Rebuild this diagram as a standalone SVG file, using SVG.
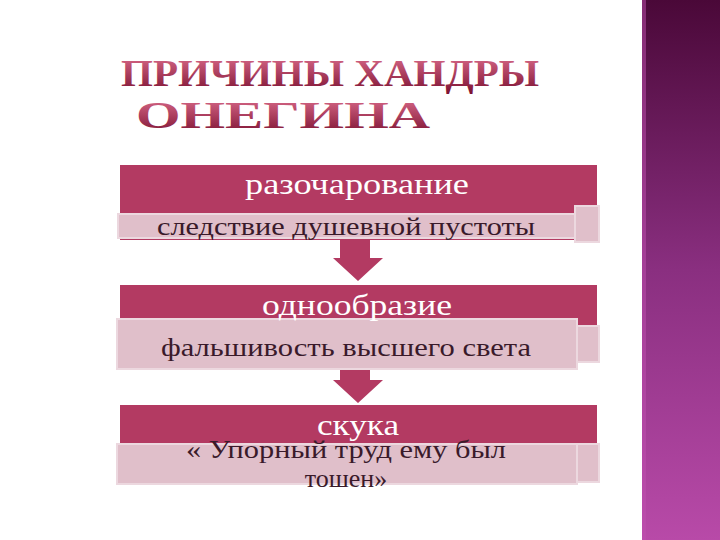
<svg xmlns="http://www.w3.org/2000/svg" width="720" height="540" viewBox="0 0 720 540">
<defs>
<linearGradient id="side" x1="0" y1="0" x2="0" y2="1"><stop offset="0" stop-color="#4a0838"/><stop offset="0.5" stop-color="#8a2f80"/><stop offset="1" stop-color="#b84aa8"/></linearGradient>
<linearGradient id="tg" x1="0" y1="0" x2="0" y2="1"><stop offset="0" stop-color="#e07090"/><stop offset="1" stop-color="#7a1030"/></linearGradient>
<style>
.dk{fill:#b33a62}
.lt{fill:#e0bfca;stroke:#ecd8df;stroke-width:2}
.w{font-family:"Liberation Serif","DejaVu Serif",serif;font-size:30px;fill:#fff;text-anchor:middle}
.b{font-family:"Liberation Serif","DejaVu Serif",serif;font-size:26px;fill:#3a1a2a;text-anchor:middle}
.t{font-family:"Liberation Serif","DejaVu Serif",serif;font-size:38px;font-weight:bold;fill:url(#tg);text-anchor:middle}
</style>
</defs>
<rect width="720" height="540" fill="#fff"/>
<rect x="642" y="0" width="78" height="540" fill="url(#side)"/>
<rect x="642" y="0" width="4" height="540" fill="#c050b0" opacity="0.5"/>
<g id="title"><text class="t" x="330" y="86" textLength="418" lengthAdjust="spacingAndGlyphs">ПРИЧИНЫ ХАНДРЫ</text><text class="t" x="283" y="128" textLength="294" lengthAdjust="spacingAndGlyphs">ОНЕГИНА</text></g>
<g id="connectors">
<polygon class="dk" points="340,240 370,240 370,258 383,258 358,281 333,258 340,258"/>
<polygon class="dk" points="340,370 370,370 370,380 383,380 358,403 333,380 340,380"/>
</g>
<g id="node1">
<rect class="dk" x="120" y="165" width="477" height="75"/>
<rect class="lt" x="575" y="206" width="24" height="36"/>
<rect class="lt" x="118" y="214" width="457" height="24"/>
<text class="w" x="357" y="194" textLength="224" lengthAdjust="spacingAndGlyphs">разочарование</text>
<text class="b" x="346" y="235" textLength="378" lengthAdjust="spacingAndGlyphs">следствие душевной пустоты</text>
</g>
<g id="node2">
<rect class="dk" x="120" y="285" width="477" height="40"/>
<rect class="lt" x="577" y="326" width="22" height="36"/>
<rect class="lt" x="117" y="319" width="460" height="50"/>
<text class="w" x="357" y="315" textLength="190" lengthAdjust="spacingAndGlyphs">однообразие</text>
<text class="b" x="346" y="356" textLength="370" lengthAdjust="spacingAndGlyphs">фальшивость высшего света</text>
</g>
<g id="node3">
<rect class="dk" x="120" y="405" width="477" height="40"/>
<rect class="lt" x="577" y="444" width="22" height="38"/>
<rect class="lt" x="117" y="444" width="460" height="40"/>
<text class="w" x="358" y="435" textLength="82" lengthAdjust="spacingAndGlyphs">скука</text>
<text class="b" x="346" y="458" textLength="320" lengthAdjust="spacingAndGlyphs">« Упорный труд ему был</text>
<text class="b" x="346" y="487">тошен»</text>
</g>
</svg>
